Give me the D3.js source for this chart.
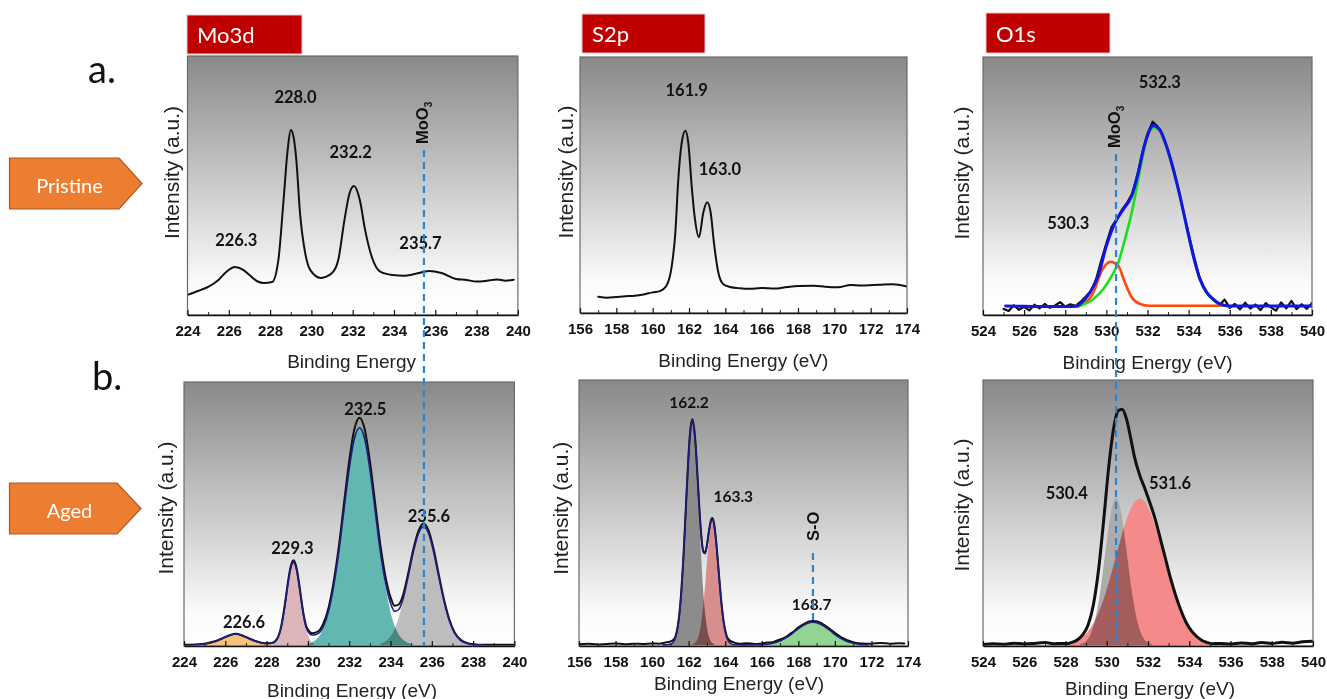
<!DOCTYPE html>
<html><head><meta charset="utf-8">
<script src="https://cdn.jsdelivr.net/npm/d3@7"></script>
<style>body{margin:0;background:#fff}svg{display:block}</style>
</head><body><svg id="c" width="1327" height="699"></svg>
<script>
// ---------------- DATA ----------------
const moTicks = [224,226,228,230,232,234,236,238,240];
const moMinor = [225,227,229,231,233,235,237,239];
const sTicks = [156,158,160,162,164,166,168,170,172,174];
const sMinor = [157,159,161,163,165,167,169,171,173];
const oTicks = [524,526,528,530,532,534,536,538,540];
const oMinor = [525,527,529,531,533,535,537,539];

const elementTitles = ["Mo3d","S2p","O1s"];
const rowTitles = ["Pristine","Aged"];
const rowLetters = ["a.","b."];

const moPristinePeaks = ["226.3","228.0","232.2","235.7"];
const sPristinePeaks = ["161.9","163.0"];
const oPristinePeaks = ["530.3","532.3"];
const moAgedPeaks = ["226.6","229.3","232.5","235.6"];
const sAgedPeaks = ["162.2","163.3","168.7"];
const oAgedPeaks = ["530.4","531.6"];

const moO3Mo = 235.45;   // MoO3 reference line (Mo3d)
const moO3O = 530.47;    // MoO3 reference line (O1s)
const sOMark = 168.8;    // S-O reference line

// Mo3d pristine raw spectrum [eV, intensity]
const moPristine = [[224.0,7.4],[224.5,8.9],[225.0,10.5],[225.5,13.2],[225.9,16.5],[226.3,18.2],[226.7,17.1],[227.0,15.1],[227.4,12.6],[227.7,12.0],[228.1,12.4],[228.4,20.9],[228.65,44],[228.85,63.6],[229.0,71.3],[229.15,68.0],[229.27,59.7],[229.45,39],[229.7,23.6],[229.95,17],[230.45,14],[231.0,15.9],[231.3,20.9],[231.6,36.4],[231.85,46.9],[232.06,49.6],[232.35,44],[232.6,32.6],[232.93,22],[233.35,16.3],[233.93,15.1],[234.5,14.8],[235.0,15.5],[235.7,16.7],[236.3,15.9],[237.0,13.6],[237.5,13.2],[238.0,12.6],[238.5,12.9],[239.0,13.4],[239.4,12.9],[239.8,13.3]];

// S2p pristine raw spectrum
const sPristine = [[157.0,6.0],[157.5,5.6],[158.0,5.9],[158.5,6.2],[159.0,6.4],[159.5,6.9],[160.0,7.7],[160.4,8.2],[160.75,10.2],[161.05,18],[161.25,31.3],[161.4,50.8],[161.6,66.4],[161.8,71.1],[161.96,66.4],[162.15,49.2],[162.33,36.3],[162.55,29.3],[162.79,39.1],[163.0,43],[163.19,39.1],[163.37,27.3],[163.61,15.6],[163.89,10.9],[164.26,9.8],[164.8,9.3],[165.3,9.1],[166.0,9.4],[166.7,9.2],[167.4,9.8],[168.0,10.2],[168.9,10.3],[169.5,9.9],[170.2,9.7],[170.9,10.6],[171.5,10.4],[172.5,10.7],[173.2,10.9],[174.0,10.0]];

// O1s pristine: raw (noisy), fit envelope, two components
const oPristineRaw = [[525.0,2.0],[525.25,1.2],[525.5,3.4],[525.75,1.6],[526.0,2.8],[526.25,1.4],[526.5,3.6],[526.75,2.2],[527.0,3.9],[527.25,2.4],[527.5,3.3],[527.75,4.6],[528.0,2.9],[528.25,3.8],[528.5,3.2],[528.75,4.8],[529.0,6.8],[529.25,8.9],[529.5,13.5],[529.75,20.8],[530.0,27.5],[530.25,33.8],[530.5,36.9],[530.75,40.5],[531.0,43.2],[531.25,46.8],[531.5,53.9],[531.75,62.8],[532.0,70.1],[532.25,74.8],[532.5,72.9],[532.75,69.0],[533.0,63.8],[533.25,56.9],[533.5,48.7],[533.75,39.6],[534.0,31.2],[534.25,22.8],[534.5,14.9],[534.75,10.2],[535.0,6.9],[535.25,5.1],[535.5,3.4],[535.75,5.6],[536.0,2.4],[536.25,3.9],[536.5,1.8],[536.75,4.4],[537.0,2.1],[537.25,3.7],[537.5,1.5],[537.75,4.2],[538.0,2.6],[538.25,1.3],[538.5,4.5],[538.75,2.2],[539.0,5.1],[539.25,1.9],[539.5,3.8],[539.75,2.0],[540.0,4.3]];
const oPristineFit = [[525.1,3.1],[526.0,3.0],[527.0,2.9],[528.0,2.9],[528.56,3.0],[528.72,3.9],[529.2,8.4],[529.6,14.8],[530.0,26.5],[530.42,35.5],[530.82,40.7],[531.23,45.9],[531.55,54.9],[531.8,64],[532.04,70.4],[532.28,73.3],[532.6,71.7],[532.93,65.2],[533.26,56.2],[533.58,45.9],[533.9,34.2],[534.23,22.6],[534.55,13.6],[534.88,8.4],[535.2,5.8],[535.53,3.9],[536.0,3.1],[537,3.1],[538,3.1],[539,3.1],[540,3.1]];
const oPristineLow = [[528.56,3.2],[528.88,3.9],[529.37,8.4],[529.77,16.8],[530.21,20.3],[530.58,18.7],[530.9,12.3],[531.23,6.5],[531.64,3.9],[532.1,3.2],[533,3.2],[534,3.2],[535,3.2],[535.8,3.2]];
const oPristineHigh = [[528.62,2.9],[529.37,5.8],[529.85,9.7],[530.26,14.8],[530.58,20],[530.9,29],[531.23,39.4],[531.55,52.3],[531.8,62.7],[532.04,69.8],[532.28,72.6],[532.6,71.2],[532.93,64.8],[533.26,55.8],[533.58,45.6],[533.9,34],[534.23,22.4],[534.55,13.4],[534.88,8.2],[535.2,5.6],[535.53,3.7],[536.0,3.0]];

// Mo3d aged: raw, fit envelope, four components
const moAgedRaw = [[224.0,0.1],[224.3,0.1],[225.0,0.5],[225.5,1.4],[225.9,2.7],[226.2,3.7],[226.5,4.3],[226.8,3.7],[227.1,2.7],[227.5,1.4],[227.9,0.7],[228.2,0.7],[228.4,1.3],[228.6,4.0],[228.7,6.9],[228.8,11.2],[228.9,16.3],[229.0,22.0],[229.15,29.3],[229.3,32.2],[229.45,29.3],[229.6,22.0],[229.7,16.3],[229.8,11.3],[229.9,7.7],[230.0,5.9],[230.2,4.5],[230.4,4.8],[230.6,6.0],[230.75,8.2],[231.0,14.2],[231.25,24.2],[231.5,37.6],[231.75,54.0],[232.0,70.0],[232.25,82.0],[232.5,86.4],[232.75,82.0],[233.0,70.0],[233.25,54.3],[233.5,38.5],[233.75,26.3],[234.0,18.2],[234.2,14.9],[234.4,15.4],[234.6,18.8],[234.85,27.0],[235.1,36.2],[235.35,43.3],[235.6,46.2],[235.85,43.4],[236.1,36],[236.35,26.3],[236.6,17],[236.85,9.7],[237.1,4.9],[237.4,2.0],[237.7,0.8],[238.0,0.3],[238.5,0.1],[240.0,0.1]];
const moAgedFit = [[224.5,0.2],[225.0,0.4],[225.5,1.3],[225.9,2.6],[226.2,3.6],[226.5,4.2],[226.8,3.6],[227.1,2.6],[227.5,1.3],[227.9,0.6],[228.2,0.6],[228.4,1.2],[228.6,3.8],[228.7,6.6],[228.8,10.7],[228.9,15.7],[229.0,21.3],[229.15,28.5],[229.3,31.4],[229.45,28.5],[229.6,21.3],[229.7,15.7],[229.8,10.7],[229.9,7.0],[230.0,5.2],[230.2,3.8],[230.4,4.0],[230.6,5.0],[230.75,7.0],[231.0,12.8],[231.25,22.5],[231.5,35.6],[231.75,51.5],[232.0,66.9],[232.25,78.4],[232.5,82.6],[232.75,78.4],[233.0,66.9],[233.25,51.5],[233.5,36.0],[233.75,24.0],[234.0,16.0],[234.2,12.8],[234.4,13.5],[234.6,17.2],[234.85,25.8],[235.1,35.2],[235.35,42.3],[235.6,45.1],[235.85,42.3],[236.1,35],[236.35,25.4],[236.6,16.3],[236.85,9.2],[237.1,4.5],[237.4,1.7],[237.7,0.6],[238.0,0.2],[238.5,0.1]];
const moAged1 = [[224.7,0],[225.1,0.5],[225.5,1.3],[225.9,2.6],[226.2,3.6],[226.5,4.2],[226.8,3.6],[227.1,2.6],[227.5,1.3],[227.9,0.5],[228.3,0]];
const moAged2 = [[228.3,0.4],[228.5,2.0],[228.6,3.8],[228.7,6.6],[228.8,10.7],[228.9,15.7],[229.0,21.3],[229.15,28.5],[229.3,31.4],[229.45,28.5],[229.6,21.3],[229.7,15.7],[229.8,10.7],[229.9,6.6],[230.0,3.8],[230.1,2.0],[230.3,0.4]];
const moAged3 = [[230.0,0.4],[230.5,2.9],[230.75,6.3],[231.0,12.5],[231.25,22.3],[231.5,35.6],[231.75,51.5],[232.0,66.9],[232.25,78.4],[232.5,82.6],[232.75,78.4],[233.0,66.9],[233.25,51.5],[233.5,35.6],[233.75,22.3],[234.0,12.5],[234.25,6.3],[234.5,2.9],[235.0,0.4]];
const moAged4 = [[233.5,0.5],[233.8,1.7],[234.1,4.5],[234.35,9.2],[234.6,16.3],[234.85,25.4],[235.1,35],[235.35,42.3],[235.6,45.1],[235.85,42.3],[236.1,35],[236.35,25.4],[236.6,16.3],[236.85,9.2],[237.1,4.5],[237.4,1.7],[237.7,0.5],[238.0,0]];

// S2p aged
const sAgedRaw = [[156,0.3],[156.5,0.5],[157,0.2],[157.5,0.4],[158,0.6],[158.5,0.3],[159,0.5],[159.5,0.4],[160,0.6],[160.4,0.5],[160.7,0.9],[161.0,1.3],[161.2,2.2],[161.3,3.8],[161.4,7.0],[161.5,12.4],[161.6,20.6],[161.7,31.6],[161.8,45.2],[161.9,59.4],[162.0,72.6],[162.1,81.8],[162.2,85.2],[162.3,81.8],[162.4,73.6],[162.5,61.8],[162.6,50],[162.7,40.6],[162.8,35.4],[162.9,34.9],[163.0,37.9],[163.1,42.6],[163.2,46.6],[163.3,47.9],[163.4,45.4],[163.5,39.4],[163.6,31.5],[163.7,23.1],[163.8,15.5],[163.9,9.6],[164.0,5.6],[164.1,3.1],[164.25,1.7],[164.5,0.9],[164.8,0.5],[165.2,0.7],[165.6,0.4],[166.0,0.6],[166.3,0.9],[166.6,1.0],[166.8,1.6],[167.05,2.2],[167.3,3.0],[167.55,4.2],[167.8,5.4],[168.05,6.9],[168.3,7.9],[168.55,8.8],[168.8,9.1],[169.05,8.9],[169.3,8.1],[169.55,7.0],[169.8,5.6],[170.05,4.3],[170.3,3.1],[170.55,2.2],[170.8,1.5],[171.1,0.9],[171.5,0.6],[172,0.5],[172.5,0.8],[173,0.5],[173.5,0.7],[173.8,0.6]];
const sAgedFit = [[160.6,0.05],[161.0,0.3],[161.2,1.5],[161.3,3.3],[161.4,6.5],[161.5,11.9],[161.6,20],[161.7,31.1],[161.8,44.6],[161.9,59],[162.0,72.1],[162.1,81.3],[162.2,84.8],[162.3,81.3],[162.4,73.3],[162.5,61.5],[162.6,49.6],[162.7,40.2],[162.8,35],[162.9,34.5],[163.0,37.5],[163.1,42.2],[163.2,46.1],[163.3,47.4],[163.4,44.9],[163.5,38.9],[163.6,31],[163.7,22.6],[163.8,15],[163.9,9.1],[164.0,5],[164.1,2.5],[164.2,1.2],[164.4,0.2],[164.8,0.05],[165.8,0.05],[166.3,0.3],[166.8,1.0],[167.05,1.7],[167.3,2.6],[167.55,3.7],[167.8,5.1],[168.05,6.4],[168.3,7.5],[168.55,8.3],[168.8,8.6],[169.05,8.3],[169.3,7.5],[169.55,6.4],[169.8,5.1],[170.05,3.7],[170.3,2.6],[170.55,1.7],[170.8,1.0],[171.3,0.3],[171.8,0.05]];
const sAgedGray = [[161.0,0.3],[161.2,1.5],[161.3,3.3],[161.4,6.5],[161.5,11.9],[161.6,20],[161.7,31.1],[161.8,44.6],[161.9,59],[162.0,72.1],[162.1,81.3],[162.2,84.6],[162.3,81.3],[162.4,72.1],[162.5,59],[162.6,44.6],[162.7,31.1],[162.8,20],[162.9,11.9],[163.0,6.5],[163.1,3.3],[163.2,1.5],[163.4,0.3]];
const sAgedRed = [[162.2,0.2],[162.4,1.2],[162.5,2.5],[162.6,5],[162.7,9.1],[162.8,15],[162.9,22.6],[163.0,31],[163.1,38.9],[163.2,44.6],[163.3,46.7],[163.4,44.6],[163.5,38.9],[163.6,31],[163.7,22.6],[163.8,15],[163.9,9.1],[164.0,5],[164.1,2.5],[164.2,1.2],[164.4,0.2]];
const sAgedGreen = [[166.3,0.3],[166.8,1.0],[167.05,1.7],[167.3,2.6],[167.55,3.7],[167.8,5.1],[168.05,6.4],[168.3,7.5],[168.55,8.3],[168.8,8.6],[169.05,8.3],[169.3,7.5],[169.55,6.4],[169.8,5.1],[170.05,3.7],[170.3,2.6],[170.55,1.7],[170.8,1.0],[171.3,0.3]];

// O1s aged
const oAgedEnv = [[524,0.2],[524.5,0.5],[525,0.3],[525.5,0.7],[526,0.4],[526.5,0.6],[527,0.9],[527.5,0.5],[527.8,0.6],[528.1,0.6],[528.35,1.1],[528.6,2.1],[528.85,4.0],[529.1,7.6],[529.35,15.1],[529.6,28.2],[529.85,47.0],[530.1,67.5],[530.35,82.5],[530.55,88.4],[530.75,89.0],[530.95,85.5],[531.15,78.5],[531.35,70.8],[531.6,64],[531.85,59],[532.1,53.5],[532.35,47.5],[532.6,40],[532.85,32.5],[533.1,25],[533.35,18.5],[533.6,13],[533.85,8.5],[534.1,5.4],[534.35,3.3],[534.6,1.8],[534.85,1.0],[535.1,0.5],[535.5,0.6],[536,0.4],[536.5,0.8],[537,0.5],[537.5,0.9],[538,0.6],[538.5,1.0],[539,0.7],[539.5,1.2],[540,1.4]];
const oAgedGray = [[528.7,0.3],[528.95,1.1],[529.2,3.8],[529.45,10],[529.7,21],[529.95,36.1],[530.2,50],[530.45,55.6],[530.7,50],[530.95,36.1],[531.2,21],[531.45,10],[531.7,3.8],[531.95,1.1],[532.2,0.3]];
const oAgedRed = [[528.1,0.4],[528.35,1],[528.6,1.8],[528.85,3.2],[529.1,5.2],[529.35,8.2],[529.6,12.2],[529.85,17.4],[530.1,23.7],[530.35,30.7],[530.6,37.9],[530.85,44.8],[531.1,50.3],[531.35,54],[531.6,55.3],[531.85,54],[532.1,50.3],[532.35,44.8],[532.6,37.9],[532.85,30.7],[533.1,23.7],[533.35,17.4],[533.6,12.2],[533.85,8.2],[534.1,5.2],[534.35,3.2],[534.6,1.8],[534.85,1],[535.1,0.4]];

// ---------------- LAYOUT ----------------
const svg = d3.select('#c');
const defs = svg.append('defs');
const grad = defs.append('linearGradient').attr('id','bg').attr('x1',0).attr('y1',0).attr('x2',0).attr('y2',1);
grad.append('stop').attr('offset','0%').attr('stop-color','#898989');
grad.append('stop').attr('offset','88%').attr('stop-color','#fbfbfb');
grad.append('stop').attr('offset','100%').attr('stop-color','#ffffff');

const TICKFONT = "'Liberation Sans', Arial, sans-serif";
const LABFONT = "Lato, 'Open Sans', sans-serif";
const BLUE_DASH = '#2a86d4';

function drawPanel(p){
  const x = d3.scaleLinear().domain(p.dom).range([p.x0,p.x1]);
  const y = d3.scaleLinear().domain([0,100]).range([p.y1-1,p.y0]);
  const g = svg.append('g');
  g.append('rect').attr('x',p.x0).attr('y',p.y0).attr('width',p.x1-p.x0).attr('height',p.y1-p.y0).attr('fill','url(#bg)');
  const cid = 'clip'+p.id;
  defs.append('clipPath').attr('id',cid).append('rect').attr('x',p.x0).attr('y',p.y0).attr('width',p.x1-p.x0).attr('height',p.y1-p.y0);
  const inner = g.append('g').attr('clip-path',`url(#${cid})`);
  const fills = inner.append('g').style('isolation','isolate');
  const area = d3.area().x(d=>x(d[0])).y0(y(0)).y1(d=>y(d[1])).curve(d3.curveMonotoneX);
  (p.fills||[]).forEach(f=>{
    fills.append('path').datum(f.data).attr('d',area).attr('fill',f.color).style('mix-blend-mode','multiply');
  });
  (p.lines||[]).forEach(l=>{
    const ln = d3.line().x(d=>x(d[0])).y(d=>y(d[1])).curve(l.linear?d3.curveLinear:d3.curveMonotoneX);
    inner.append('path').datum(l.data).attr('d',ln).attr('fill','none').attr('stroke',l.color)
      .attr('stroke-width',l.w).attr('stroke-linejoin','round').attr('stroke-linecap','round');
  });
  g.append('rect').attr('x',p.x0).attr('y',p.y0).attr('width',p.x1-p.x0).attr('height',p.y1-p.y0)
    .attr('fill','none').attr('stroke','#6a6a6a').attr('stroke-width',1.2);
  const minorAx = g.append('g').attr('transform',`translate(0,${p.y1})`)
    .call(d3.axisBottom(x).tickValues(p.minor).tickSizeInner(-3).tickSizeOuter(0).tickFormat(''));
  minorAx.select('.domain').remove();
  minorAx.selectAll('line').attr('stroke','#222').attr('stroke-width',1);
  const ax = g.append('g').attr('transform',`translate(0,${p.y1})`)
    .call(d3.axisBottom(x).tickValues(p.ticks).tickSizeInner(-5).tickSizeOuter(0).tickFormat(d3.format('d')));
  ax.select('.domain').attr('stroke','#111').attr('stroke-width',1.6);
  ax.selectAll('line').attr('stroke','#111').attr('stroke-width',1.2);
  ax.selectAll('text').attr('y',16).attr('dy','0.35em').attr('font-family',TICKFONT).attr('font-weight','bold')
    .attr('font-size',15).attr('fill','#111');
  p.labels.forEach((t,i)=>{
    const pos = p.labelPos[i];
    g.append('text').attr('x',x(pos[0])).attr('y',y(pos[1])).attr('text-anchor','middle').attr('dominant-baseline','central')
      .attr('font-family',LABFONT).attr('font-weight','bold').attr('font-size',p.labelSize||16.5).attr('fill','#111').text(t);
  });
  svg.append('text').attr('x',p.xt[0]).attr('y',p.xt[1]).attr('text-anchor','middle').attr('dominant-baseline','central')
    .attr('font-family',TICKFONT).attr('font-size',19).attr('fill','#222').text(p.xtitle);
  svg.append('text').attr('transform',`translate(${p.yt[0]},${p.yt[1]}) rotate(-90)`).attr('text-anchor','middle')
    .attr('dominant-baseline','central').attr('font-family',TICKFONT).attr('font-size',21).attr('fill','#222').text('Intensity (a.u.)');
  return {x,y};
}

const P1 = drawPanel({id:1,x0:187.5,x1:517.9,y0:56,y1:315,dom:[224,240],ticks:moTicks,minor:moMinor,
  lines:[{data:moPristine,color:'#111',w:2}],
  labels:moPristinePeaks,labelPos:[[226.36,28.7],[229.23,84.1],[231.9,62.8],[235.28,27.5]],
  xtitle:'Binding Energy',xt:[351.6,361.7],yt:[171,172.5]});
const P2 = drawPanel({id:2,x0:580,x1:907,y0:57,y1:313,dom:[156,174],ticks:sTicks,minor:sMinor,
  lines:[{data:sPristine,color:'#111',w:2}],
  labels:sPristinePeaks,labelPos:[[161.87,87.1],[163.7,55.9]],
  xtitle:'Binding Energy (eV)',xt:[743.3,360],yt:[565,172]});
const P3 = drawPanel({id:3,x0:983,x1:1312,y0:57,y1:315,dom:[524,540],ticks:oTicks,minor:oMinor,
  lines:[{data:oPristineRaw,color:'#111',w:2.2,linear:true},{data:oPristineLow,color:'#ff4a0a',w:2.6},{data:oPristineHigh,color:'#19e019',w:2.6},{data:oPristineFit,color:'#1414e6',w:3}],
  labels:oPristinePeaks,labelPos:[[528.15,35.5],[532.6,90.4]],
  xtitle:'Binding Energy (eV)',xt:[1147.5,362],yt:[961.7,173]});
const P4 = drawPanel({id:4,x0:184,x1:514.4,y0:382,y1:646,dom:[224,240],ticks:moTicks,minor:moMinor,
  fills:[{data:moAged1,color:'#f6c27c'},{data:moAged2,color:'#dbb5b7'},{data:moAged3,color:'#62b7b0'},{data:moAged4,color:'#bdbdbd'}],
  lines:[{data:moAgedRaw,color:'#111',w:2},{data:moAgedFit,color:'#1e1e80',w:1.6}],
  labels:moAgedPeaks,labelPos:[[226.91,8.8],[229.25,37],[232.78,89.7],[235.86,49]],
  xtitle:'Binding Energy (eV)',xt:[352,690],yt:[165.3,508]});
const P5 = drawPanel({id:5,x0:579,x1:908,y0:380,y1:646,dom:[156,174],ticks:sTicks,minor:sMinor,
  fills:[{data:sAgedGray,color:'#8c8c8c'},{data:sAgedRed,color:'#d98e8e'},{data:sAgedGreen,color:'#92d592'}],
  lines:[{data:sAgedRaw,color:'#111',w:2},{data:sAgedFit,color:'#1e1e80',w:1.6}],
  labels:sAgedPeaks,labelPos:[[162.02,91.8],[164.44,56.1],[168.73,15.4]],labelSize:15.5,
  xtitle:'Binding Energy (eV)',xt:[739,683.3],yt:[560,508.3]});
const P6 = drawPanel({id:6,x0:983,x1:1313,y0:380,y1:646,dom:[524,540],ticks:oTicks,minor:oMinor,
  fills:[{data:oAgedGray,color:'#acacac'},{data:oAgedRed,color:'#f48a8a'}],
  lines:[{data:oAgedEnv,color:'#111',w:3}],
  labels:oAgedPeaks,labelPos:[[528.06,57.4],[533.07,61.2]],
  xtitle:'Binding Energy (eV)',xt:[1150,688.3],yt:[961.7,505]});

// reference dashed lines
function dashLine(xp,y0,y1){
  svg.append('line').attr('x1',xp).attr('x2',xp).attr('y1',y0).attr('y2',y1)
    .attr('stroke',BLUE_DASH).attr('stroke-width',2.2).attr('stroke-dasharray','7,5');
}
function vLabel(xp,yBottom,main,sub){
  const t = svg.append('text').attr('transform',`translate(${xp},${yBottom}) rotate(-90)`).attr('text-anchor','start')
    .attr('font-family',TICKFONT).attr('font-weight','bold').attr('font-size',16.5).attr('fill','#111');
  t.append('tspan').text(main);
  if(sub) t.append('tspan').attr('font-size',10).attr('dy',4).text(sub);
}
const xMo = P1.x(moO3Mo);
dashLine(xMo,150,646);
vLabel(xMo+4,144,'MoO','3');
const xO = P3.x(moO3O);
dashLine(xO,154,646);
vLabel(xO+4,148,'MoO','3');
const xSO = P5.x(sOMark);
dashLine(xSO,553,621);
vLabel(xSO+6,541,'S-O',null);

// element title boxes
const titleBoxes = [[187,15,115,39],[582,14,123,39],[986,13,124,40]];
elementTitles.forEach((t,i)=>{
  const b = titleBoxes[i];
  svg.append('rect').attr('x',b[0]).attr('y',b[1]).attr('width',b[2]).attr('height',b[3]).attr('fill','#c00000')
    .attr('stroke','#e8c8c8').attr('stroke-width',1);
  svg.append('text').attr('x',b[0]+10).attr('y',b[1]+b[3]/2).attr('dominant-baseline','central')
    .attr('font-family',LABFONT).attr('font-size',22).attr('fill','#fff').text(t);
});

// row arrows
const arrows = [[9.5,158,119,142,209],[9.5,483,117,141,534]];
rowTitles.forEach((t,i)=>{
  const a = arrows[i];
  const mid = (a[1]+a[4])/2;
  svg.append('path').attr('d',`M${a[0]},${a[1]} L${a[2]},${a[1]} L${a[3]},${mid} L${a[2]},${a[4]} L${a[0]},${a[4]} Z`)
    .attr('fill','#ed7d31').attr('stroke','#b4561c').attr('stroke-width',1.2);
  svg.append('text').attr('x',69.5).attr('y',mid+1).attr('text-anchor','middle').attr('dominant-baseline','central')
    .attr('font-family',LABFONT).attr('font-size',20).attr('fill','#fff').text(t);
});
const letterPos = [[88,83],[92,390]];
rowLetters.forEach((t,i)=>{
  svg.append('text').attr('x',letterPos[i][0]).attr('y',letterPos[i][1]).attr('font-family',LABFONT)
    .attr('font-size',38).attr('fill','#111').text(t);
});
</script></body></html>
